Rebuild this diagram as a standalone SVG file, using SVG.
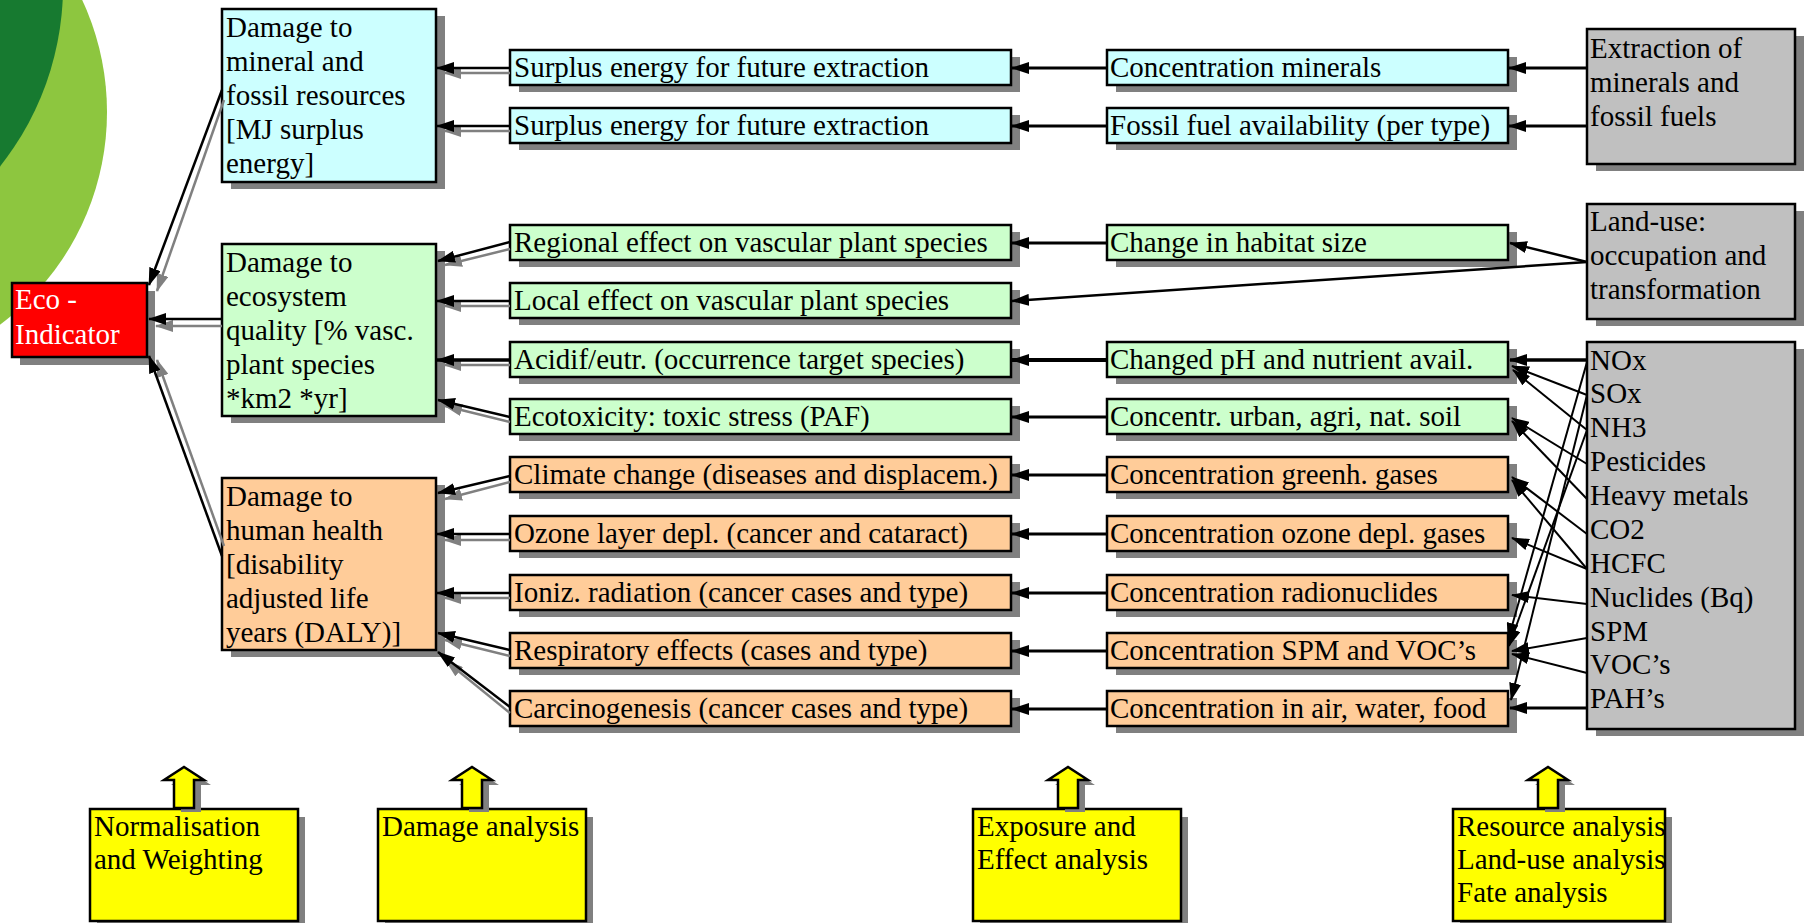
<svg xmlns="http://www.w3.org/2000/svg" width="1807" height="923" viewBox="0 0 1807 923">
<style>
text{font-family:"Liberation Serif","Times New Roman",serif;font-size:29px;fill:#000}
.box{stroke:#000;stroke-width:2.5}
.sh{fill:#808080}
.cyan{fill:#CCFFFF}.grn{fill:#CCFFCC}.org{fill:#FFCC99}.gry{fill:#C0C0C0}.yel{fill:#FFFF00}.red{fill:#FF0000}
.c{stroke:#000;stroke-width:2.5;fill:none;marker-end:url(#ah)}
.g{stroke:#808080;stroke-width:2.5;fill:none;marker-end:url(#ahg)}
.f{stroke:#000;stroke-width:2;fill:none;marker-end:url(#ah)}
.w{fill:#fff}
</style>
<defs>
<marker id="ah" viewBox="0 0 18 12" markerWidth="18" markerHeight="12" refX="17" refY="6" orient="auto" markerUnits="userSpaceOnUse"><path d="M0,0 L18,6 L0,12 z" fill="#000"/></marker>
<marker id="ahg" viewBox="0 0 18 12" markerWidth="18" markerHeight="12" refX="17" refY="6" orient="auto" markerUnits="userSpaceOnUse"><path d="M0,0 L18,6 L0,12 z" fill="#808080"/></marker>
</defs>
<rect width="1807" height="923" fill="#fff"/>
<g id="background">
<circle cx="-158" cy="112" r="265" fill="#8DC63F"/>
<circle cx="-227" cy="-14" r="290" fill="#177A30"/>
</g>

<g id="eco-indicator"><rect class="sh" x="20" y="291" width="135" height="74"/><rect class="box red" x="12" y="283" width="135" height="74"/><text class="w" x="15" y="309">Eco -</text><text class="w" x="15" y="344">Indicator</text></g>

<g id="damage-resources"><rect class="sh" x="231" y="16" width="214" height="173"/><rect class="box cyan" x="222" y="9" width="214" height="173"/>
<text x="226" y="37">Damage to</text><text x="226" y="71">mineral and</text><text x="226" y="105">fossil resources</text><text x="226" y="139">[MJ surplus</text><text x="226" y="173">energy]</text></g>
<g id="damage-ecosystem"><rect class="sh" x="231" y="251" width="214" height="172"/><rect class="box grn" x="222" y="244" width="214" height="172"/>
<text x="226" y="272">Damage to</text><text x="226" y="306">ecosystem</text><text x="226" y="340">quality [% vasc.</text><text x="226" y="374">plant species</text><text x="226" y="408">*km2 *yr]</text></g>
<g id="damage-health"><rect class="sh" x="231" y="485" width="214" height="172"/><rect class="box org" x="222" y="478" width="214" height="172"/>
<text x="226" y="506">Damage to</text><text x="226" y="540">human health</text><text x="226" y="574">[disability</text><text x="226" y="608">adjusted life</text><text x="226" y="642">years (DALY)]</text></g>

<g id="surplus-1"><rect class="sh" x="519" y="57" width="501" height="35"/><rect class="box cyan" x="510" y="50" width="501" height="35"/><text x="514" y="77">Surplus energy for future extraction</text></g>
<g id="surplus-2"><rect class="sh" x="519" y="115" width="501" height="35"/><rect class="box cyan" x="510" y="108" width="501" height="35"/><text x="514" y="135">Surplus energy for future extraction</text></g>
<g id="regional"><rect class="sh" x="519" y="232" width="501" height="35"/><rect class="box grn" x="510" y="225" width="501" height="35"/><text x="514" y="252">Regional effect on vascular plant species</text></g>
<g id="local"><rect class="sh" x="519" y="290" width="501" height="35"/><rect class="box grn" x="510" y="283" width="501" height="35"/><text x="514" y="310">Local effect on vascular plant species</text></g>
<g id="acidif"><rect class="sh" x="519" y="349" width="501" height="35"/><rect class="box grn" x="510" y="342" width="501" height="35"/><text x="514" y="369">Acidif/eutr. (occurrence target species)</text></g>
<g id="ecotox"><rect class="sh" x="519" y="406" width="501" height="35"/><rect class="box grn" x="510" y="399" width="501" height="35"/><text x="514" y="426">Ecotoxicity: toxic stress (PAF)</text></g>
<g id="climate"><rect class="sh" x="519" y="464" width="501" height="35"/><rect class="box org" x="510" y="457" width="501" height="35"/><text x="514" y="484">Climate change (diseases and displacem.)</text></g>
<g id="ozone"><rect class="sh" x="519" y="523" width="501" height="35"/><rect class="box org" x="510" y="516" width="501" height="35"/><text x="514" y="543">Ozone layer depl. (cancer and cataract)</text></g>
<g id="ioniz"><rect class="sh" x="519" y="582" width="501" height="35"/><rect class="box org" x="510" y="575" width="501" height="35"/><text x="514" y="602">Ioniz. radiation (cancer cases and type)</text></g>
<g id="respiratory"><rect class="sh" x="519" y="640" width="501" height="35"/><rect class="box org" x="510" y="633" width="501" height="35"/><text x="514" y="660">Respiratory effects (cases and type)</text></g>
<g id="carcino"><rect class="sh" x="519" y="698" width="501" height="35"/><rect class="box org" x="510" y="691" width="501" height="35"/><text x="514" y="718">Carcinogenesis (cancer cases and type)</text></g>

<g id="conc-minerals"><rect class="sh" x="1116" y="57" width="401" height="35"/><rect class="box cyan" x="1107" y="50" width="401" height="35"/><text x="1110" y="77">Concentration minerals</text></g>
<g id="fossil-avail"><rect class="sh" x="1116" y="115" width="401" height="35"/><rect class="box cyan" x="1107" y="108" width="401" height="35"/><text x="1110" y="135">Fossil fuel availability (per type)</text></g>
<g id="habitat"><rect class="sh" x="1116" y="232" width="401" height="35"/><rect class="box grn" x="1107" y="225" width="401" height="35"/><text x="1110" y="252">Change in habitat size</text></g>
<g id="ph"><rect class="sh" x="1116" y="349" width="401" height="35"/><rect class="box grn" x="1107" y="342" width="401" height="35"/><text x="1110" y="369">Changed pH and nutrient avail.</text></g>
<g id="soil"><rect class="sh" x="1116" y="406" width="401" height="35"/><rect class="box grn" x="1107" y="399" width="401" height="35"/><text x="1110" y="426">Concentr. urban, agri, nat. soil</text></g>
<g id="greenh"><rect class="sh" x="1116" y="464" width="401" height="35"/><rect class="box org" x="1107" y="457" width="401" height="35"/><text x="1110" y="484">Concentration greenh. gases</text></g>
<g id="ozone-gases"><rect class="sh" x="1116" y="523" width="401" height="35"/><rect class="box org" x="1107" y="516" width="401" height="35"/><text x="1110" y="543">Concentration ozone depl. gases</text></g>
<g id="radionuclides"><rect class="sh" x="1116" y="582" width="401" height="35"/><rect class="box org" x="1107" y="575" width="401" height="35"/><text x="1110" y="602">Concentration radionuclides</text></g>
<g id="spm-voc"><rect class="sh" x="1116" y="640" width="401" height="35"/><rect class="box org" x="1107" y="633" width="401" height="35"/><text x="1110" y="660">Concentration SPM and VOC’s</text></g>
<g id="air-water-food"><rect class="sh" x="1116" y="698" width="401" height="35"/><rect class="box org" x="1107" y="691" width="401" height="35"/><text x="1110" y="718">Concentration in air, water, food</text></g>

<g id="extraction"><rect class="sh" x="1596" y="36" width="208" height="135"/><rect class="box gry" x="1587" y="29" width="208" height="135"/><text x="1590" y="58">Extraction of</text><text x="1590" y="92">minerals and</text><text x="1590" y="126">fossil fuels</text></g>
<g id="land-use"><rect class="sh" x="1596" y="211" width="208" height="115"/><rect class="box gry" x="1587" y="204" width="208" height="115"/><text x="1590" y="231">Land-use:</text><text x="1590" y="265">occupation and</text><text x="1590" y="299">transformation</text></g>
<g id="emissions"><rect class="sh" x="1596" y="349" width="208" height="387"/><rect class="box gry" x="1587" y="342" width="208" height="387"/>
<text x="1590" y="370">NOx</text><text x="1590" y="403">SOx</text><text x="1590" y="437">NH3</text><text x="1590" y="471">Pesticides</text><text x="1590" y="505">Heavy metals</text><text x="1590" y="539">CO2</text><text x="1590" y="573">HCFC</text><text x="1590" y="607">Nuclides (Bq)</text><text x="1590" y="641">SPM</text><text x="1590" y="674">VOC’s</text><text x="1590" y="708">PAH’s</text></g>

<g id="normalisation"><rect class="sh" x="97" y="817" width="208" height="112"/><rect class="box yel" x="90" y="809" width="208" height="112"/><path class="sh" d="M181,812 L181,785 L171,785 L191,772 L211,785 L201,785 L201,812 z"/><path class="box yel" d="M174,808 L174,780 L164,780 L184,767 L204,780 L194,780 L194,808 z"/><text x="94" y="836">Normalisation</text><text x="94" y="869">and Weighting</text></g>
<g id="damage-analysis"><rect class="sh" x="385" y="817" width="208" height="112"/><rect class="box yel" x="378" y="809" width="208" height="112"/><path class="sh" d="M469,812 L469,785 L459,785 L479,772 L499,785 L489,785 L489,812 z"/><path class="box yel" d="M462,808 L462,780 L452,780 L472,767 L492,780 L482,780 L482,808 z"/><text x="382" y="836">Damage analysis</text></g>
<g id="exposure-effect"><rect class="sh" x="980" y="817" width="208" height="112"/><rect class="box yel" x="973" y="809" width="208" height="112"/><path class="sh" d="M1065,812 L1065,785 L1055,785 L1075,772 L1095,785 L1085,785 L1085,812 z"/><path class="box yel" d="M1058,808 L1058,780 L1048,780 L1068,767 L1088,780 L1078,780 L1078,808 z"/><text x="977" y="836">Exposure and</text><text x="977" y="869">Effect analysis</text></g>
<g id="resource-landuse-fate"><rect class="sh" x="1460" y="817" width="212" height="112"/><rect class="box yel" x="1453" y="809" width="212" height="112"/><path class="sh" d="M1545,812 L1545,785 L1535,785 L1555,772 L1575,785 L1565,785 L1565,812 z"/><path class="box yel" d="M1538,808 L1538,780 L1528,780 L1548,767 L1568,780 L1558,780 L1558,808 z"/><text x="1457" y="836">Resource analysis</text><text x="1457" y="869">Land-use analysis</text><text x="1457" y="902">Fate analysis</text></g>

<g id="connectors">
<!-- damage -> eco-indicator -->
<path class="g" d="M224,100 L157,291"/>
<path class="c" d="M222,90 L149,285"/>
<path class="g" d="M222,326 L156,326"/>
<path class="c" d="M222,319 L149,319"/>
<path class="g" d="M224,546 L157,360"/>
<path class="c" d="M222,556 L149,356"/>
<!-- effects -> damage -->
<path class="g" d="M510,73 L444,73"/><path class="c" d="M510,68 L437,68"/>
<path class="g" d="M510,131 L444,131"/><path class="c" d="M510,126 L437,126"/>
<path class="g" d="M510,249 L445,265"/><path class="c" d="M510,242 L438,261"/>
<path class="g" d="M510,306 L444,306"/><path class="c" d="M510,301 L437,301"/>
<path class="g" d="M510,365 L444,365"/><path class="c" d="M510,360 L437,360" style="stroke-width:3.5"/>
<path class="g" d="M510,422 L445,406"/><path class="c" d="M510,417 L438,400"/>
<path class="g" d="M510,482 L445,499"/><path class="c" d="M510,476 L438,493"/>
<path class="g" d="M510,540 L444,540"/><path class="c" d="M510,534 L437,534"/>
<path class="g" d="M510,598 L444,598"/><path class="c" d="M510,593 L437,593"/>
<path class="g" d="M510,656 L445,640"/><path class="c" d="M510,650 L438,633"/>
<path class="g" d="M510,713 L446,661"/><path class="c" d="M510,707 L438,652"/>
<!-- midpoints -> effects -->
<path class="c" d="M1107,68 L1012,68" style="stroke-width:3"/>
<path class="c" d="M1107,126 L1012,126" style="stroke-width:3"/>
<path class="c" d="M1107,243 L1012,243" style="stroke-width:3"/>
<path class="c" d="M1587,262 L1012,301"/>
<path class="c" d="M1107,360 L1012,360" style="stroke-width:4"/>
<path class="c" d="M1107,417 L1012,417" style="stroke-width:3"/>
<path class="c" d="M1107,475 L1012,475" style="stroke-width:3"/>
<path class="c" d="M1107,534 L1012,534" style="stroke-width:3"/>
<path class="c" d="M1107,593 L1012,593" style="stroke-width:3"/>
<path class="c" d="M1107,651 L1012,651" style="stroke-width:3"/>
<path class="c" d="M1107,709 L1012,709" style="stroke-width:3"/>
<!-- sources -> midpoints -->
<path class="c" d="M1587,68 L1509,68" style="stroke-width:3"/>
<path class="c" d="M1587,126 L1509,126" style="stroke-width:3"/>
<path class="c" d="M1587,262 L1510,243"/>
<path class="c" d="M1587,360 L1510,360" style="stroke-width:3.5"/>
<path class="f" d="M1587,395 L1512,366"/>
<path class="f" d="M1587,430 L1513,370"/>
<path class="f" d="M1587,464 L1512,418"/>
<path class="f" d="M1587,499 L1512,421"/>
<path class="f" d="M1587,534 L1512,477"/>
<path class="f" d="M1587,569 L1512,480"/>
<path class="f" d="M1587,569 L1512,538"/>
<path class="f" d="M1587,604 L1512,595"/>
<path class="f" d="M1587,638 L1512,651"/>
<path class="f" d="M1587,673 L1512,654"/>
<path class="c" d="M1587,708 L1510,708" style="stroke-width:3"/>
<path class="f" d="M1587,362 L1508,640"/>
<path class="f" d="M1587,395 L1511,700"/>
<path class="f" d="M1587,430 L1509,646"/>
</g>
</svg>
